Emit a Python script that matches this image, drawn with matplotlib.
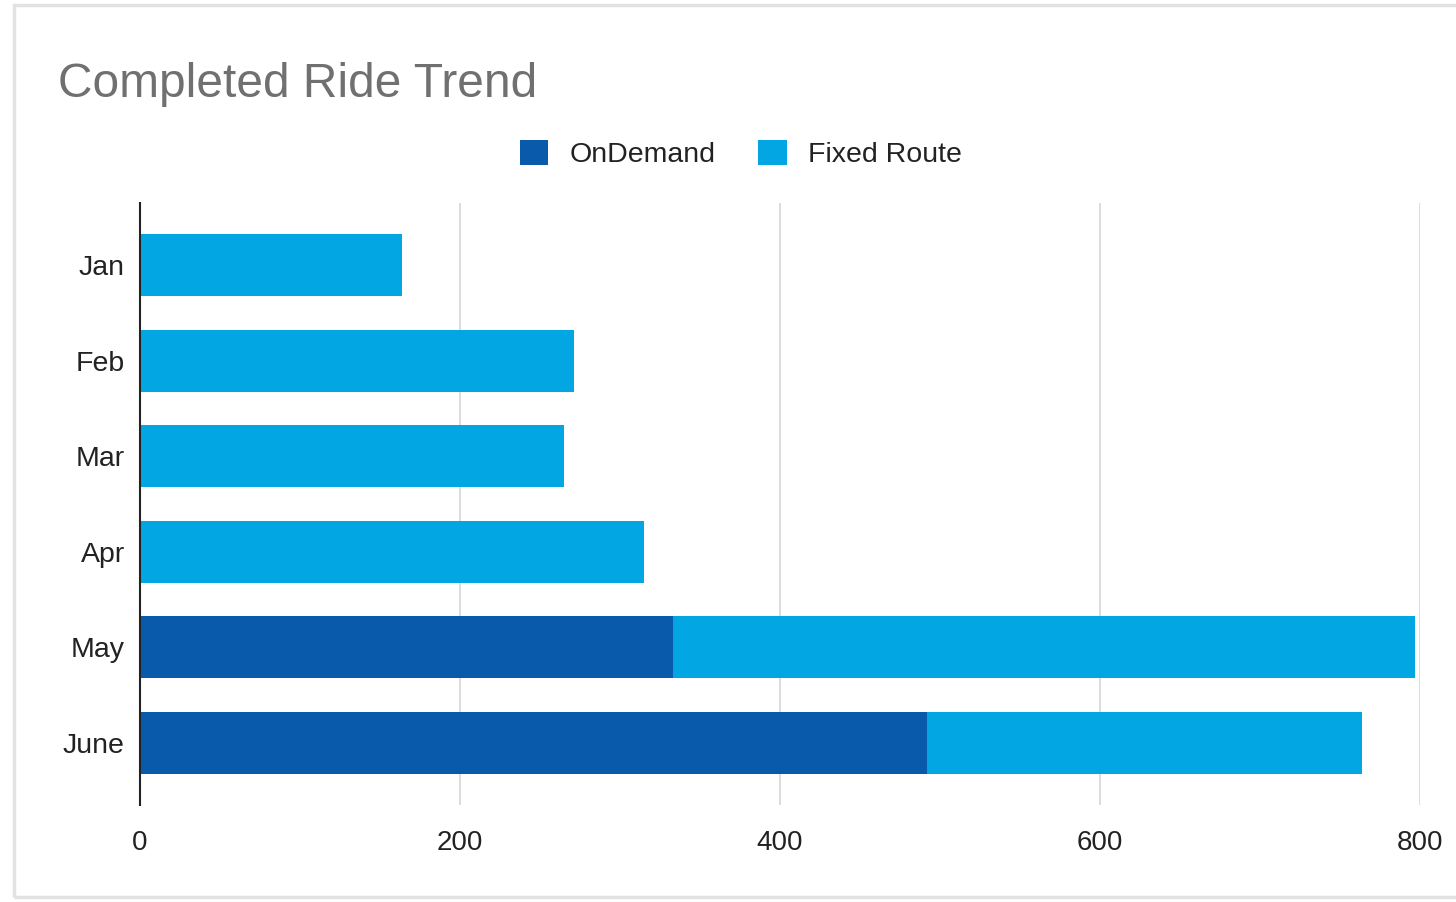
import matplotlib.pyplot as plt
from matplotlib.patches import Rectangle

plt.rcParams['font.family'] = ['Liberation Sans', 'DejaVu Sans']

months = ["Jan", "Feb", "Mar", "Apr", "May", "June"]
on_demand = [0, 0, 0, 0, 333, 492]
fixed_route = [164, 271, 265, 315, 464, 272]
x_ticks = [0, 200, 400, 600, 800]

c_on = "#0a5aab"
c_fixed = "#02a6e2"

fig = plt.figure(figsize=(14.56, 9.02), dpi=100)
ax = fig.add_axes([140 / 1456, 1 - 805 / 902, 1280 / 1456, 602 / 902])

y = list(range(len(months)))
ax.barh(y, on_demand, height=0.65, color=c_on, label="OnDemand", zorder=3)
ax.barh(y, fixed_route, left=on_demand, height=0.65, color=c_fixed,
        label="Fixed Route", zorder=3)

ax.set_ylim(5.65, -0.65)
ax.set_xlim(0, 800)
ax.set_yticks(y)
ax.set_yticklabels(months)
ax.set_xticks(x_ticks)
ax.tick_params(length=0, labelsize=20.5, colors="#222222", pad=11)
ax.tick_params(axis="x", pad=18, labelsize=20)
ax.xaxis.grid(True, color="#d6d6d6", linewidth=1.2, zorder=0)
for s in ["top", "right", "bottom"]:
    ax.spines[s].set_visible(False)
ax.spines["left"].set_color("#222222")
ax.spines["left"].set_linewidth(1.5)
ax.spines["left"].set_zorder(4)

fig.text(58 / 1456, 1 - 97 / 902, "Completed Ride Trend", fontsize=34.5,
         color="#707070", ha="left", va="baseline")

fig.legend(loc="center", bbox_to_anchor=(741 / 1456, 1 - 154 / 902), ncol=2,
           frameon=False, fontsize=20.5, handlelength=1.0, handleheight=1.0,
           handletextpad=0.75, columnspacing=1.5, labelcolor="#222222")

# card border
fig.patches.append(Rectangle((14 / 1456, 5 / 902), 1.1, 1 - 10 / 902,
                             transform=fig.transFigure, fill=False,
                             edgecolor="#e2e2e2", linewidth=2.5))

fig.savefig("out.png", dpi=100)
